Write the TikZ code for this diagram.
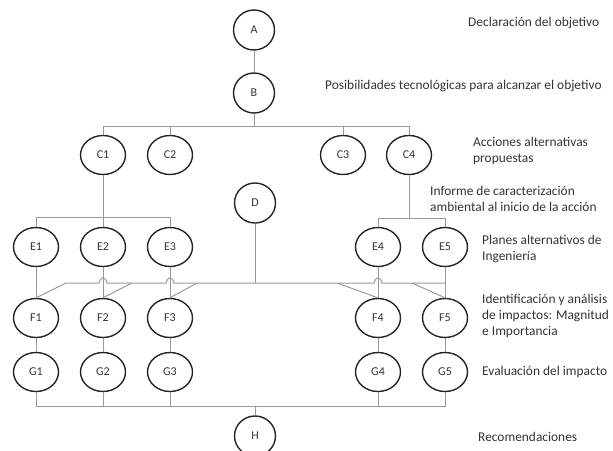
\documentclass[tikz,border=0pt]{standalone}
\usepackage{fontspec}
\setmainfont{Carlito}
\usetikzlibrary{shapes.geometric}
\begin{document}
\begin{tikzpicture}[x=1pt,y=-1pt,
  ell/.style={ellipse,draw=black!85,line width=1.4pt,minimum width=45pt,minimum height=39pt,inner sep=0pt,font=\fontsize{12}{14}\selectfont,text=black!80},
  circ/.style={ell,minimum width=41pt,minimum height=40pt},
  conn/.style={draw=black!40,line width=1pt},
  lbl/.style={anchor=west,align=left,inner sep=0pt,font=\fontsize{13.4}{16}\selectfont,text=black!80}]
\useasboundingbox (0,0) rectangle (613,450);
% nodes
\node[circ] (A) at (254,30) {A};
\node[circ] (B) at (254,93) {B};
\node[ell] (C1) at (103,155) {C1};
\node[ell] (C2) at (170,155) {C2};
\node[ell] (C3) at (343,155) {C3};
\node[ell] (C4) at (409,155) {C4};
\node[circ] (D) at (255,203) {D};
\node[ell] (E1) at (36,247) {E1};
\node[ell] (E2) at (103,247) {E2};
\node[ell] (E3) at (170,247) {E3};
\node[ell] (E4) at (378,247) {E4};
\node[ell] (E5) at (445,247) {E5};
\node[ell] (F1) at (36,318) {F1};
\node[ell] (F2) at (103,318) {F2};
\node[ell] (F3) at (170,318) {F3};
\node[ell] (F4) at (378,318) {F4};
\node[ell] (F5) at (445,318) {F5};
\node[ell] (G1) at (36,372) {G1};
\node[ell] (G2) at (103,372) {G2};
\node[ell] (G3) at (170,372) {G3};
\node[ell] (G4) at (378,372) {G4};
\node[ell] (G5) at (445,372) {G5};
\node[circ] (H) at (255,436) {H};
% labels
\node[lbl] (lA) at (468,23) {Declaración del objetivo};
\node[lbl] (lB) at (325,86) {Posibilidades tecnológicas para alcanzar el objetivo};
\node[lbl] (lC) at (473,151) {Acciones alternativas\\propuestas};
\node[lbl] (lD) at (430,199) {Informe de caracterización\\ambiental al inicio de la acción};
\node[lbl] (lE) at (482,249) {Planes alternativos de\\Ingeniería};
\node[lbl] (lF) at (482,316) {Identificación y análisis\\de impactos: Magnitud\\e Importancia};
\node[lbl] (lG) at (482,372) {Evaluación del impacto};
\node[lbl] (lH) at (478,437) {Recomendaciones};
% connectors
\coordinate (bB) at (0,126);
\coordinate (e1) at (0,217);
\coordinate (e2) at (0,218);
\coordinate (h) at (0,283);
\coordinate (g) at (0,406);
\draw[conn] (A) -- (B);
\draw[conn] (B.south) -- (B.south |- bB);
\draw[conn] (C1.north) -- (C1.north |- bB) -- (C4.north |- bB) -- (C4.north);
\draw[conn] (C2.north) -- (C2.north |- bB);
\draw[conn] (C3.north) -- (C3.north |- bB);
\draw[conn] (C1.south) -- (C1.south |- e1);
\draw[conn] (E1.north) -- (E1.north |- e1) -- (E3.north |- e1) -- (E3.north);
\draw[conn] (E2.north) -- (E2.north |- e1);
\draw[conn] (C4.south) -- (C4.south |- e2);
\draw[conn] (E4.north) -- (E4.north |- e2) -- (E5.north |- e2) -- (E5.north);
\foreach \i in {1,...,5} {
  \draw[conn] (E\i) -- (F\i);
  \draw[conn] (F\i) -- (G\i);
}
\draw[conn] (F1.north) -- (66,283) -- (99,283)
  .. controls (101,276) and (105,276) .. (107,283) -- (166,283)
  .. controls (168,276) and (172,276) .. (174,283) -- (374,283)
  .. controls (376,276) and (380,276) .. (382,283) -- (E5.south |- h);
\draw[conn] (F2.north) -- (132,283);
\draw[conn] (F3.north) -- (197,283);
\draw[conn] (F4.north) -- (337,283);
\draw[conn] (F5.north) -- (412,283);
\draw[conn] (D.south) -- (D.south |- h);
\draw[conn] (G1.south) -- (G1.south |- g) -- (G5.south |- g) -- (G5.south);
\draw[conn] (G2.south) -- (G2.south |- g);
\draw[conn] (G3.south) -- (G3.south |- g);
\draw[conn] (G4.south) -- (G4.south |- g);
\draw[conn] (H.north) -- (H.north |- g);
\end{tikzpicture}
\end{document}
